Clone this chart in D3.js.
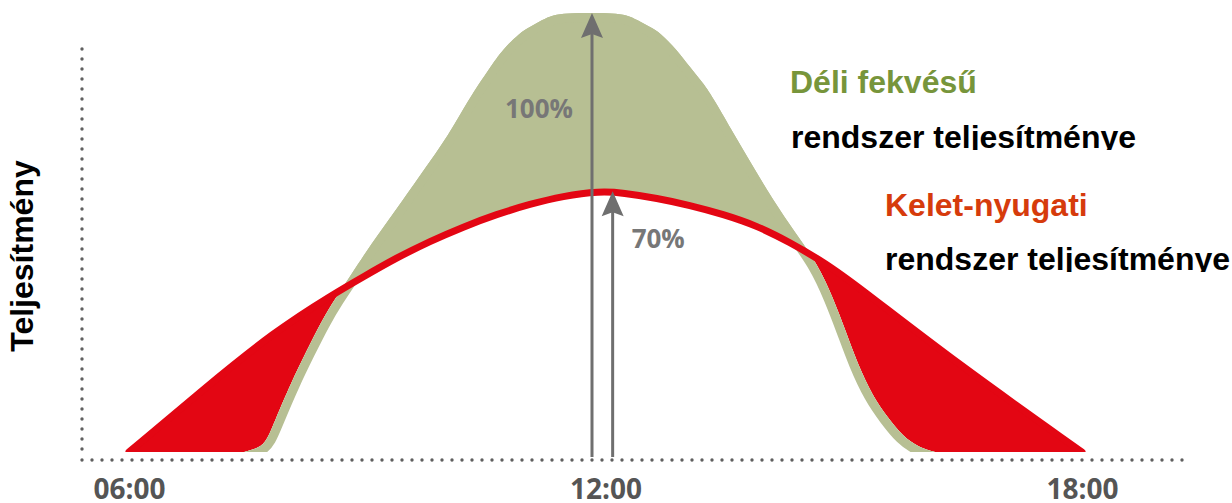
<!DOCTYPE html>
<html>
<head>
<meta charset="utf-8">
<script src="https://cdn.jsdelivr.net/npm/d3@7"></script>
<style>
  html, body { margin: 0; padding: 0; background: #ffffff; }
  svg { display: block; }
</style>
</head>
<body>
<svg id="chart" width="1232" height="503"></svg>
<script>
// South-facing ("Déli fekvésű") system output over the day, % of its noon peak
const southHours = [7.45, 7.64, 7.74, 7.84, 8.04, 8.23, 8.42, 8.60, 8.79, 9.04, 9.36, 9.67, 10.04,
  10.27, 10.55, 10.70, 10.92, 11.05, 11.20, 11.34, 11.51, 11.83, 12.09, 12.27, 12.40, 12.56, 12.69,
  12.90, 13.06, 13.23, 13.37, 13.61, 13.86, 14.11, 14.39, 14.68, 14.86, 15.02, 15.17, 15.37, 15.55,
  15.75, 15.94, 16.15];
const southPower = [0, 4.0, 8.5, 16.6, 28.2, 36.3, 43.5, 48.8, 53.5, 59.8, 66.5, 73.0, 80.3,
  86.0, 91.4, 94.15, 96.9, 97.8, 98.9, 99.7, 99.97, 100, 99.97, 99.7, 98.9, 97.8, 96.9,
  94.15, 91.4, 88.8, 86.0, 80.3, 74.4, 68.4, 62.1, 55.7, 49.0, 41.6, 33.5, 24.1, 17.7,
  9.9, 4.7, 0];

// East-west ("Kelet-nyugati") system output, same units
const eastWestHours = [6.0, 6.91, 7.84, 8.58, 8.95, 9.37, 9.79, 10.21, 10.63, 11.05, 11.46, 11.93,
  12.22, 12.65, 13.06, 13.48, 13.91, 14.32, 14.74, 15.14, 16.40, 18.0];
const eastWestPower = [0, 25.9, 41.4, 49.7, 53.3, 57.2, 60.5, 63.3, 65.7, 67.6, 69.1, 70,
  69.7, 68.7, 67.4, 65.7, 63.5, 60.3, 56.4, 51.8, 33.8, 0];

// Time axis
const tickHours = [6, 12, 18];
const tickLabels = ["06:00", "12:00", "18:00"];

// Peak markers
const arrowHours = [11.83, 12.09];
const arrowValues = [100, 70];
const arrowLabels = ["100%", "70%"];

const GREEN_FILL = "#b7bf93";
const RED = "#e30613";
const ARROW_GREY = "#6f6f6f";

const svg = d3.select("#chart");
const baseY = 452;

const x = d3.scaleLinear().domain([6, 18]).range([129, 1082]);
const y = d3.scalePow().exponent(1.46).domain([0, 100]).range([baseY, 13]);

const south = southHours.map((h, i) => [h, southPower[i]]);
const eastWest = eastWestHours.map((h, i) => [h, eastWestPower[i]]);

const area = d3.area()
  .x(d => x(d[0])).y0(y(0)).y1(d => y(d[1]))
  .curve(d3.curveBasis);
const line = d3.line()
  .x(d => x(d[0])).y(d => y(d[1]))
  .curve(d3.curveBasis);

const defs = svg.append("defs");
defs.append("clipPath").attr("id", "plot-clip")
  .append("rect").attr("x", 0).attr("y", 0).attr("width", 1232).attr("height", baseY);
defs.append("clipPath").attr("id", "south-clip")
  .append("path").attr("d", area(south));

// Dotted frame
const frame = svg.append("g")
  .attr("stroke", "#5f5f5f")
  .attr("stroke-width", 3.4)
  .attr("stroke-linecap", "round")
  .attr("stroke-dasharray", "0 10");
frame.append("line").attr("x1", 82).attr("y1", 49).attr("x2", 82).attr("y2", 452);
frame.append("line").attr("x1", 82).attr("y1", 460).attr("x2", 1184).attr("y2", 460);

// Curves
const plot = svg.append("g").attr("clip-path", "url(#plot-clip)");
plot.append("path").attr("d", area(eastWest)).attr("fill", RED);
plot.append("path").attr("d", area(south)).attr("fill", GREEN_FILL);
// region under both curves stays white
plot.append("g").attr("clip-path", "url(#south-clip)")
  .append("path").attr("d", area(eastWest)).attr("fill", "#ffffff");
// thin green rim along the inside of the south curve
plot.append("g").attr("clip-path", "url(#south-clip)")
  .append("path").attr("d", line(south))
  .attr("fill", "none").attr("stroke", GREEN_FILL).attr("stroke-width", 18)
  .attr("stroke-linejoin", "round");
plot.append("path").attr("d", line(eastWest))
  .attr("fill", "none").attr("stroke", RED).attr("stroke-width", 7)
  .attr("stroke-linejoin", "round").attr("stroke-linecap", "round");

// Peak arrows
const arrows = svg.append("g");
arrowHours.forEach((h, i) => {
  const ax = x(h);
  const tip = y(arrowValues[i]);
  arrows.append("line")
    .attr("x1", ax).attr("x2", ax)
    .attr("y1", baseY + 5).attr("y2", tip + 20)
    .attr("stroke", ARROW_GREY).attr("stroke-width", 3);
  arrows.append("path")
    .attr("d", `M${ax},${tip} L${ax - 11},${tip + 25} L${ax},${tip + 21} L${ax + 11},${tip + 25} Z`)
    .attr("fill", ARROW_GREY);
});
const labelPlacement = [
  { dx: -19, y: 118, anchor: "end" },
  { dx: 19, y: 248, anchor: "start" }
];
arrowLabels.forEach((t, i) => {
  svg.append("text")
    .attr("x", x(arrowHours[i]) + labelPlacement[i].dx)
    .attr("y", labelPlacement[i].y)
    .attr("text-anchor", labelPlacement[i].anchor)
    .attr("font-family", "'Open Sans', sans-serif")
    .attr("font-weight", 700)
    .attr("font-size", 26)
    .attr("fill", "#777777")
    .text(t);
});

// Time axis labels
const xAxis = d3.axisBottom(x)
  .tickValues(tickHours)
  .tickFormat((d, i) => tickLabels[i])
  .tickSize(0);
const axisG = svg.append("g").attr("transform", `translate(0,460)`).call(xAxis);
axisG.select(".domain").remove();
axisG.selectAll("text")
  .attr("y", 39).attr("dy", null)
  .attr("font-family", "'Open Sans', sans-serif")
  .attr("font-weight", 700)
  .attr("font-size", 28)
  .attr("fill", "#555555");

// Y axis title
svg.append("text")
  .attr("transform", "translate(33,256) rotate(-90)")
  .attr("text-anchor", "middle")
  .attr("font-family", "'Liberation Sans', Arial, sans-serif")
  .attr("font-weight", 700)
  .attr("font-size", 32)
  .attr("fill", "#000000")
  .text("Teljesítmény");

// Legend
const legend = [
  { text: "Déli fekvésű", x: 790, y: 93, color: "#77953b", clip: false },
  { text: "rendszer teljesítménye", x: 791, y: 148, color: "#000000", clip: true },
  { text: "Kelet-nyugati", x: 885, y: 216, color: "#d63b0c", clip: false },
  { text: "rendszer teljesítménye", x: 885, y: 270, color: "#000000", clip: true }
];
legend.forEach((d, i) => {
  const t = svg.append("text")
    .attr("x", d.x).attr("y", d.y)
    .attr("font-family", "'Liberation Sans', Arial, sans-serif")
    .attr("font-weight", 700)
    .attr("font-size", 32)
    .attr("fill", d.color)
    .text(d.text);
  if (d.clip) {
    const id = "legend-clip-" + i;
    defs.append("clipPath").attr("id", id)
      .append("rect").attr("x", 0).attr("y", d.y - 40).attr("width", 1232).attr("height", 42);
    t.attr("clip-path", `url(#${id})`);
  }
});
</script>
</body>
</html>
